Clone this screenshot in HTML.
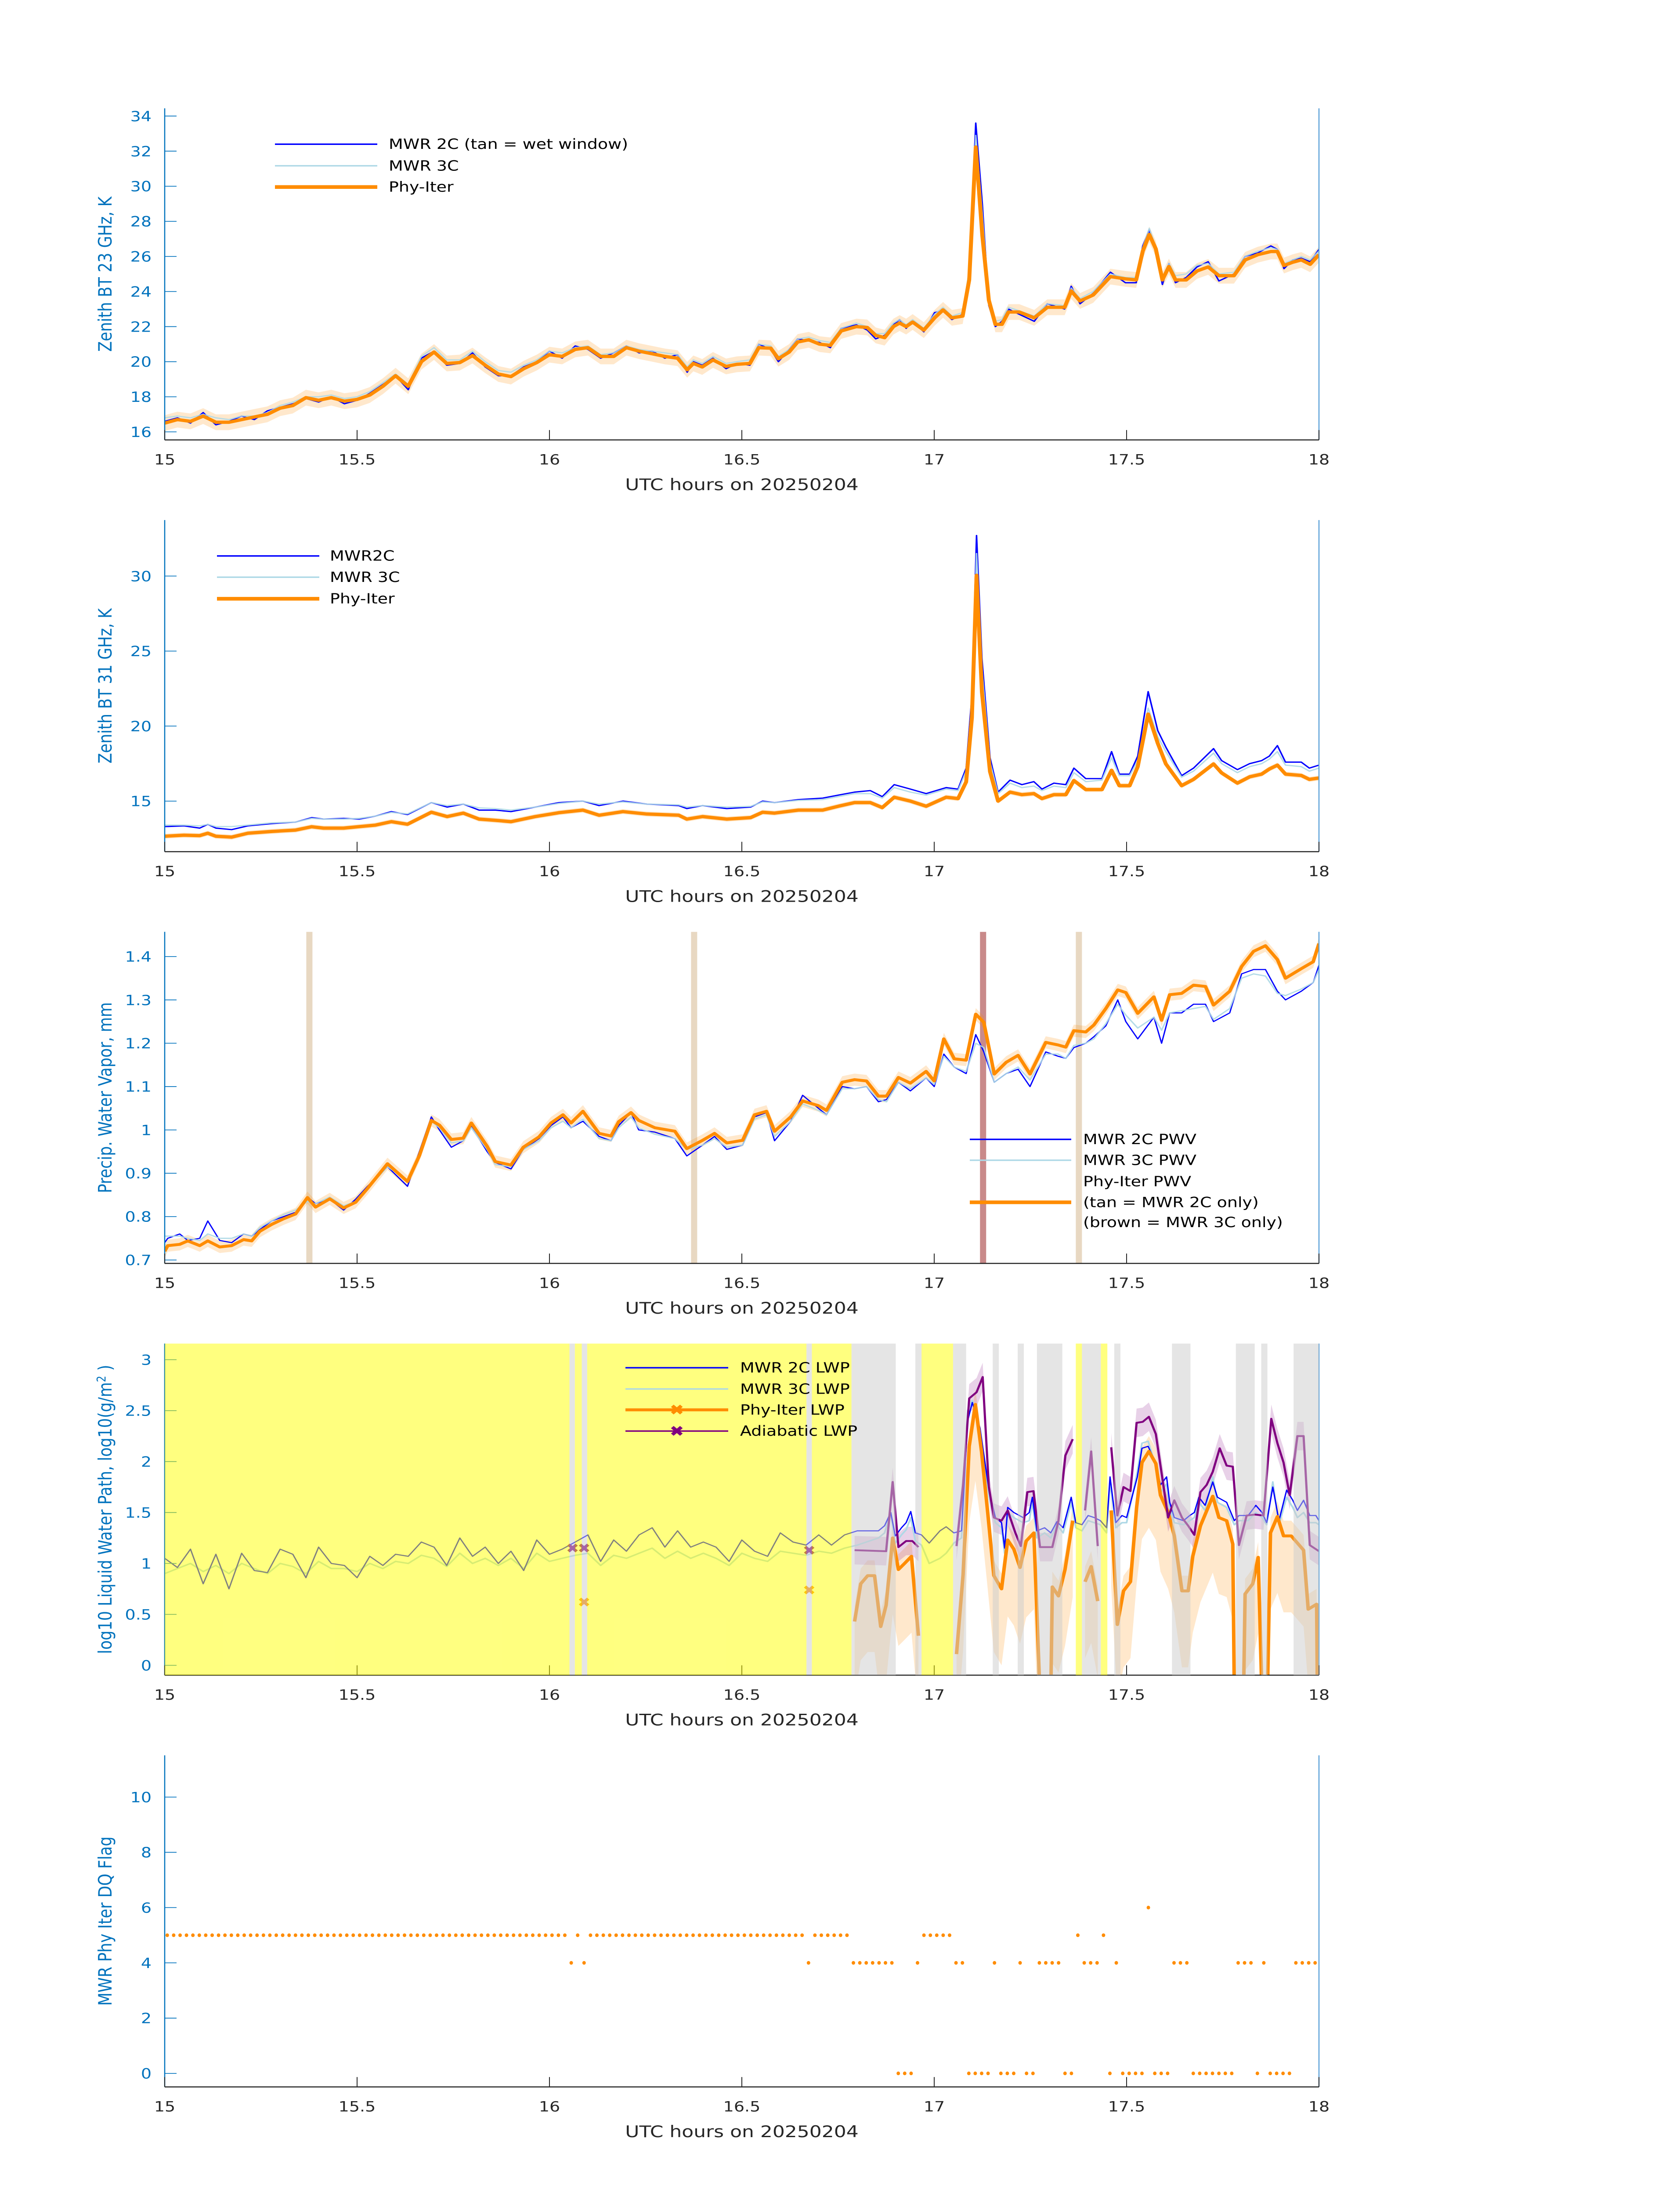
<!DOCTYPE html>
<html><head><meta charset="utf-8"><title>MWR Phy-Iter retrievals 20250204</title>
<style>
html,body{margin:0;padding:0;background:#fff;width:100%;height:100%;overflow:hidden;}
svg{display:block;width:100vw;height:100vh;font-family:"DejaVu Sans","Liberation Sans",sans-serif;}
</style></head>
<body>
<svg id="chart" xmlns="http://www.w3.org/2000/svg" viewBox="0 0 3825 6000" preserveAspectRatio="none">
<rect x="0" y="0" width="3825" height="6000" fill="#ffffff"/>
<g id="p1"></g>
<g id="p2"></g>
<g id="p3"></g>
<g id="p4"></g>
<g id="p5"></g>
</svg>
<script>
// ---------------- data ----------------
const xTickValues = [15, 15.5, 16, 16.5, 17, 17.5, 18];
const xTickLabels = ["15", "15.5", "16", "16.5", "17", "17.5", "18"];

// Panel 1: 23 GHz
const p1Ticks = [16, 18, 20, 22, 24, 26, 28, 30, 32, 34];
const p1T = [15.000,15.033,15.067,15.100,15.133,15.167,15.200,15.233,15.267,15.300,15.333,15.367,15.400,15.433,15.467,15.500,15.533,15.567,15.600,15.633,15.667,15.700,15.733,15.767,15.800,15.833,15.867,15.900,15.933,15.967,16.000,16.033,16.067,16.100,16.133,16.167,16.200,16.233,16.267,16.300,16.333,
16.358,16.374,16.397,16.425,16.459,16.487,16.521,16.544,16.575,16.595,16.623,16.645,16.674,16.702,16.730,16.758,16.798,16.826,16.848,16.871,16.894,16.910,16.927,16.944,16.973,17.001,17.023,17.046,17.074,17.091,17.108,17.125,17.142,17.159,17.176,17.193,17.221,17.260,17.294,17.339,17.356,17.379,17.413,17.458,17.497,17.525,17.542,17.559,17.576,17.593,17.610,17.627,17.655,17.683,17.712,17.740,17.779,17.808,17.841,17.875,17.892,17.909,17.932,17.954,17.977,18.0];
const p1Phy = [16.5,16.7,16.6,16.9,16.55,16.55,16.7,16.85,17.0,17.35,17.5,17.95,17.8,17.95,17.75,17.85,18.1,18.6,19.2,18.6,20.0,20.55,19.9,19.95,20.35,19.8,19.3,19.15,19.6,19.95,20.4,20.3,20.7,20.8,20.3,20.3,20.8,20.6,20.45,20.3,20.2,
19.54,19.9,19.7,20.1,19.73,19.85,19.9,20.8,20.77,20.17,20.55,21.12,21.25,21.0,20.93,21.75,22.0,21.95,21.5,21.37,22.0,22.2,22.0,22.26,21.8,22.5,22.95,22.5,22.6,24.66,32.24,27.2,23.5,22.13,22.13,22.83,22.83,22.5,23.1,23.1,24.03,23.46,23.8,24.85,24.72,24.66,26.3,27.25,26.43,24.66,25.42,24.66,24.66,25.17,25.4,24.9,24.9,25.8,26.1,26.28,26.28,25.48,25.67,25.8,25.55,26.1];
const p1Mwr2c = [16.6,16.8,16.5,17.1,16.4,16.6,16.9,16.7,17.2,17.4,17.6,17.9,17.7,18.0,17.6,17.8,18.2,18.7,19.2,18.4,20.2,20.6,19.8,19.9,20.5,19.7,19.2,19.2,19.7,20.0,20.6,20.2,20.9,20.7,20.2,20.5,20.9,20.5,20.6,20.2,20.4,
19.4,20.0,19.8,20.2,19.6,19.9,19.8,21.0,20.7,20.0,20.7,21.3,21.2,21.1,20.8,21.9,22.1,21.8,21.3,21.5,22.1,22.4,21.9,22.3,21.7,22.8,22.9,22.4,22.7,25.0,33.6,29.0,23.2,22.0,22.3,23.0,22.7,22.3,23.3,23.0,24.3,23.3,23.9,25.1,24.5,24.5,26.6,27.5,26.2,24.4,25.6,24.5,24.8,25.4,25.7,24.6,25.0,26.0,26.2,26.6,26.4,25.3,25.8,25.9,25.7,26.4];
const p1Mwr3c = [16.8,16.9,16.8,17.0,16.8,16.7,16.9,16.9,17.1,17.5,17.7,18.0,18.0,18.1,17.9,18.0,18.3,18.8,19.3,18.7,20.3,20.8,20.1,20.1,20.6,20.0,19.5,19.4,19.8,20.1,20.6,20.5,20.8,20.9,20.4,20.5,20.9,20.7,20.6,20.5,20.4,
19.7,20.1,19.9,20.3,19.9,20.0,20.1,21.0,20.9,20.3,20.7,21.3,21.4,21.2,21.1,21.9,22.2,22.0,21.6,21.6,22.2,22.4,22.1,22.4,21.9,22.7,23.1,22.6,22.8,25.2,32.9,28.4,23.6,22.3,22.4,23.1,22.9,22.6,23.3,23.2,24.2,23.6,24.0,25.0,24.8,24.8,26.5,27.6,26.5,24.8,25.6,24.9,25.0,25.5,25.6,25.0,25.1,26.0,26.3,26.5,26.4,25.6,25.8,26.0,25.8,26.3];

// Panel 2: 31 GHz
const p2Ticks = [15, 20, 25, 30];
const p2T = [15.000,15.050,15.091,15.112,15.133,15.174,15.216,15.278,15.340,15.382,15.413,15.465,15.506,15.548,15.589,15.631,15.693,15.734,15.776,15.817,15.859,15.900,15.963,16.025,16.087,16.129,16.191,16.253,16.336,16.357,16.398,16.461,16.523,16.554,16.585,16.647,16.710,16.751,16.793,16.834,16.865,16.896,16.938,16.979,17.031,17.062,17.083,17.098,17.110,17.124,17.145,17.166,17.197,17.228,17.259,17.280,17.311,17.342,17.363,17.394,17.436,17.461,17.481,17.508,17.529,17.556,17.581,17.602,17.643,17.674,17.726,17.747,17.788,17.820,17.851,17.871,17.892,17.913,17.954,17.975,18.000];
const p2Phy = [12.66,12.73,12.7,12.86,12.66,12.6,12.86,12.98,13.07,13.29,13.2,13.2,13.3,13.4,13.63,13.46,14.26,13.97,14.2,13.8,13.72,13.63,13.97,14.23,14.4,14.06,14.3,14.14,14.06,13.8,13.97,13.8,13.9,14.26,14.2,14.4,14.4,14.66,14.9,14.9,14.57,15.26,15.0,14.66,15.26,15.17,16.28,20.56,30.05,22.27,16.97,15.0,15.6,15.43,15.5,15.17,15.43,15.43,16.37,15.77,15.77,17.05,16.03,16.03,17.3,20.8,18.85,17.48,16.03,16.45,17.48,16.88,16.2,16.62,16.8,17.14,17.4,16.8,16.71,16.45,16.54];
const p2Mwr2c = [13.3,13.35,13.2,13.45,13.2,13.1,13.35,13.5,13.6,13.9,13.8,13.85,13.8,14.0,14.3,14.1,14.9,14.6,14.8,14.4,14.4,14.3,14.6,14.9,15.0,14.7,15.0,14.8,14.7,14.5,14.7,14.5,14.6,15.0,14.9,15.1,15.2,15.4,15.6,15.7,15.3,16.1,15.8,15.5,15.9,15.8,17.2,22.0,32.7,24.5,17.9,15.6,16.4,16.1,16.3,15.8,16.2,16.1,17.2,16.5,16.5,18.3,16.8,16.8,18.0,22.3,19.7,18.6,16.7,17.2,18.5,17.7,17.1,17.5,17.7,18.0,18.7,17.6,17.6,17.2,17.4];
const p2Mwr3c = [13.4,13.4,13.35,13.45,13.3,13.3,13.4,13.55,13.6,13.85,13.8,13.8,13.85,14.0,14.25,14.15,14.9,14.7,14.8,14.55,14.5,14.4,14.6,14.85,15.0,14.8,14.95,14.8,14.75,14.6,14.7,14.6,14.65,14.95,14.9,15.05,15.1,15.3,15.5,15.5,15.2,15.9,15.6,15.4,15.8,15.7,17.0,21.5,31.5,23.8,17.6,15.5,16.2,15.9,16.0,15.7,16.0,15.9,16.9,16.3,16.4,17.9,16.7,16.7,17.7,21.2,19.3,18.3,16.6,17.0,18.2,17.5,16.9,17.3,17.5,17.8,18.3,17.4,17.3,17.0,17.2];

// Panel 3: PWV
const p3Ticks = [0.7, 0.8, 0.9, 1.0, 1.1, 1.2, 1.3, 1.4];
const p3TickLabels = ["0.7", "0.8", "0.9", "1", "1.1", "1.2", "1.3", "1.4"];
const p3T = [15.000,15.008,15.039,15.060,15.091,15.112,15.143,15.174,15.205,15.226,
15.247,15.278,15.309,15.340,15.371,15.392,15.429,15.465,15.496,15.527,
15.579,15.631,15.662,15.693,15.714,15.745,15.776,15.797,15.838,15.859,
15.900,15.932,15.973,16.004,16.035,16.056,16.087,16.129,16.160,16.180,
16.212,16.232,16.274,16.326,16.357,16.398,16.429,16.461,16.502,16.533,
16.564,16.585,16.627,16.658,16.699,16.720,16.761,16.793,16.824,16.855,
16.876,16.907,16.938,16.979,17.000,17.025,17.052,17.083,17.108,17.129,
17.156,17.187,17.218,17.249,17.290,17.322,17.342,17.363,17.394,17.415,
17.446,17.477,17.498,17.529,17.571,17.591,17.612,17.643,17.674,17.705,
17.726,17.768,17.799,17.830,17.861,17.892,17.913,17.954,17.985,18.000];
const p3Phy = [0.72,0.733,0.736,0.744,0.733,0.744,0.73,0.733,0.747,0.744,
0.766,0.782,0.795,0.806,0.844,0.822,0.841,0.82,0.833,0.865,
0.922,0.881,0.941,1.022,1.011,0.978,0.981,1.016,0.962,0.927,
0.919,0.96,0.984,1.016,1.035,1.016,1.043,0.992,0.986,1.019,
1.04,1.022,1.005,0.997,0.957,0.976,0.992,0.97,0.976,1.035,
1.043,0.997,1.03,1.067,1.056,1.045,1.11,1.116,1.113,1.078,
1.078,1.121,1.108,1.135,1.113,1.21,1.164,1.161,1.267,1.248,
1.129,1.156,1.172,1.129,1.202,1.196,1.191,1.229,1.226,1.242,
1.28,1.323,1.317,1.269,1.307,1.253,1.312,1.315,1.334,1.331,
1.288,1.32,1.377,1.412,1.425,1.393,1.35,1.372,1.388,1.43];
const p3Mwr2c = [0.74,0.75,0.76,0.745,0.75,0.79,0.745,0.74,0.76,0.755,
0.77,0.79,0.8,0.81,0.845,0.83,0.84,0.815,0.84,0.87,
0.915,0.87,0.95,1.03,1.0,0.96,0.975,1.01,0.95,0.925,
0.91,0.955,0.98,1.01,1.03,1.005,1.02,0.985,0.975,1.01,
1.04,1.0,0.995,0.98,0.94,0.965,0.985,0.955,0.965,1.03,
1.04,0.975,1.02,1.08,1.05,1.035,1.1,1.095,1.1,1.065,
1.07,1.11,1.09,1.12,1.1,1.175,1.145,1.13,1.22,1.18,
1.11,1.13,1.14,1.1,1.18,1.17,1.165,1.19,1.2,1.215,
1.24,1.3,1.25,1.21,1.26,1.2,1.27,1.27,1.29,1.29,
1.25,1.27,1.36,1.37,1.37,1.32,1.30,1.32,1.34,1.38];
const p3Mwr3c = [0.755,0.755,0.755,0.75,0.745,0.76,0.75,0.75,0.76,0.755,
0.775,0.79,0.805,0.815,0.835,0.83,0.845,0.825,0.835,0.865,
0.915,0.885,0.945,1.02,1.005,0.97,0.975,1.005,0.955,0.92,
0.915,0.955,0.975,1.005,1.02,1.005,1.025,0.98,0.975,1.005,
1.03,1.005,0.99,0.98,0.955,0.965,0.98,0.96,0.965,1.025,
1.035,0.985,1.02,1.06,1.045,1.035,1.095,1.095,1.1,1.07,
1.065,1.11,1.095,1.12,1.105,1.17,1.145,1.135,1.2,1.19,
1.11,1.13,1.145,1.115,1.175,1.175,1.165,1.195,1.2,1.21,
1.245,1.29,1.265,1.235,1.26,1.23,1.27,1.275,1.28,1.285,
1.255,1.28,1.35,1.36,1.355,1.315,1.31,1.325,1.34,1.37];
const p3TanTimes = [15.376, 16.376, 17.376];
const p3BrownTimes = [17.127];

// Panel 4: LWP
const p4Ticks = [0, 0.5, 1, 1.5, 2, 2.5, 3];
const p4TickLabels = ["0", "0.5", "1", "1.5", "2", "2.5", "3"];
const lwpT = [15.000,15.033,15.067,15.100,15.133,15.167,15.200,15.233,15.267,15.300,15.333,15.367,15.400,15.433,15.467,15.500,15.533,15.567,15.600,15.633,15.667,15.700,15.733,15.767,15.800,15.833,15.867,15.900,15.933,15.967,16.000,16.033,16.067,16.100,16.133,16.167,16.200,16.233,16.267,16.300,16.333,16.367,16.400,16.433,16.467,16.500,16.533,16.567,16.600,16.633,16.667,16.700,16.733,16.767,16.800,
16.855,16.871,16.887,16.899,16.915,16.927,16.939,16.951,16.967,16.987,17.015,17.031,17.051,17.071,17.087,17.099,17.119,17.143,17.159,17.175,17.183,17.191,17.207,17.231,17.247,17.255,17.267,17.287,17.303,17.319,17.335,17.356,17.368,17.384,17.400,17.416,17.432,17.448,17.457,17.472,17.488,17.500,17.528,17.540,17.556,17.576,17.588,17.604,17.612,17.624,17.648,17.664,17.676,17.688,17.704,17.724,17.736,17.760,17.780,17.792,17.816,17.836,17.852,17.864,17.880,17.896,17.916,17.932,17.944,17.960,17.976,17.992,18.000];
const lwp2c = [1.05,0.96,1.14,0.8,1.09,0.75,1.1,0.93,0.91,1.14,1.09,0.86,1.16,1.0,0.98,0.86,1.07,0.98,1.09,1.07,1.21,1.16,0.98,1.25,1.07,1.16,1.0,1.12,0.93,1.23,1.09,1.14,1.21,1.28,1.02,1.23,1.12,1.28,1.35,1.16,1.32,1.16,1.21,1.16,1.02,1.23,1.12,1.07,1.3,1.21,1.18,1.28,1.18,1.28,1.32,
1.32,1.37,1.5,1.27,1.35,1.4,1.51,1.30,1.28,1.2,1.32,1.36,1.30,1.32,2.4,2.58,2.33,1.7,1.45,1.4,1.15,1.55,1.5,1.45,1.5,1.65,1.32,1.35,1.30,1.41,1.35,1.65,1.4,1.38,1.47,1.45,1.42,1.35,1.85,1.4,1.47,1.45,1.85,2.13,2.15,1.98,1.77,1.85,1.6,1.45,1.42,1.47,1.5,1.65,1.57,1.8,1.65,1.6,1.42,1.47,1.47,1.57,1.5,1.4,1.75,1.42,1.72,1.62,1.52,1.62,1.47,1.47,1.42];
const lwp3c = [0.9,0.95,1.0,0.92,0.98,0.9,1.0,0.95,0.9,1.0,0.97,0.9,1.02,0.95,0.95,0.92,1.0,0.95,1.02,1.0,1.08,1.05,0.97,1.1,1.0,1.05,0.98,1.05,0.95,1.1,1.02,1.05,1.08,1.1,0.98,1.08,1.05,1.1,1.15,1.05,1.12,1.05,1.1,1.05,0.98,1.1,1.05,1.02,1.12,1.1,1.08,1.12,1.1,1.15,1.18,
1.25,1.3,1.5,1.2,1.28,1.33,1.45,1.22,1.18,1.0,1.05,1.1,1.2,1.25,2.5,2.6,2.3,1.65,1.4,1.35,1.1,1.5,1.45,1.4,1.42,1.6,1.25,1.3,1.25,1.38,1.3,1.6,1.35,1.32,1.42,1.4,1.38,1.3,1.8,1.35,1.4,1.4,1.9,2.18,2.2,1.95,1.7,1.78,1.55,1.4,1.38,1.42,1.45,1.6,1.52,1.85,1.6,1.55,1.38,1.42,1.42,1.5,1.45,1.38,1.8,1.38,1.65,1.55,1.45,1.5,1.4,1.4,1.38];
const phyLwpT = [16.793,16.809,16.827,16.845,16.861,16.875,16.892,16.907,16.923,16.941,16.959,16.960,17.058,17.075,17.091,17.107,17.123,17.139,17.155,17.175,17.191,17.207,17.223,17.239,17.259,17.275,17.290,17.303,17.307,17.323,17.340,17.360,17.370,17.392,17.408,17.425,17.440,17.460,17.476,17.492,17.510,17.526,17.540,17.558,17.576,17.588,17.608,17.624,17.644,17.660,17.672,17.692,17.724,17.740,17.760,17.776,17.780,17.790,17.804,17.808,17.828,17.842,17.852,17.860,17.866,17.874,17.892,17.908,17.928,17.960,17.972,17.994,17.996];
const phyLwpV = [0.43,0.80,0.88,0.88,0.38,0.59,1.25,0.94,1.0,1.07,0.29,null,0.11,0.89,2.15,2.56,2.1,1.5,0.88,0.75,1.23,1.14,0.96,1.22,1.30,-0.3,null,-0.3,0.77,0.68,0.94,1.42,null,0.82,0.97,0.63,null,1.52,0.4,0.73,0.82,1.55,1.99,2.1,1.98,1.67,1.5,1.27,0.73,0.73,1.07,1.37,1.66,1.45,1.42,1.19,-0.3,null,-0.3,0.7,0.8,1.06,-0.3,null,-0.3,1.3,1.46,1.27,1.27,1.13,0.55,0.6,-0.3];
const adiaLwpT = [16.793,16.875,16.892,16.907,16.927,16.943,16.959,16.960,17.058,17.075,17.091,17.110,17.126,17.142,17.155,17.175,17.191,17.211,17.225,17.242,17.258,17.275,17.307,17.323,17.341,17.360,17.370,17.392,17.408,17.425,17.440,17.460,17.476,17.492,17.510,17.526,17.542,17.558,17.576,17.608,17.624,17.644,17.660,17.676,17.692,17.708,17.724,17.742,17.760,17.776,17.792,17.812,17.834,17.856,17.876,17.892,17.908,17.924,17.944,17.960,17.976,18.0];
const adiaLwpV = [1.13,1.12,1.8,1.16,1.22,1.22,1.16,null,1.17,1.77,2.62,2.68,2.83,1.75,1.45,1.42,1.52,1.3,1.17,1.7,1.71,1.16,1.16,1.42,2.06,2.22,null,1.52,2.1,1.17,null,2.14,1.47,1.75,1.71,2.38,2.39,2.44,2.27,1.45,1.62,1.45,1.37,1.28,1.7,1.77,1.9,2.13,1.96,1.95,1.18,1.47,1.48,1.47,2.42,2.18,1.99,1.67,2.25,2.25,1.18,1.12];
const adiaPtT = [16.06, 16.09, 16.675];
const adiaPtV = [1.15, 1.15, 1.13];
const phyPtT = [16.09, 16.675];
const phyPtV = [0.62, 0.74];
const yellowStart = [15.0, 16.066, 16.098, 16.682, 16.967, 17.368, 17.433];
const yellowEnd = [16.052, 16.084, 16.668, 16.785, 17.049, 17.384, 17.450];
const grayStart = [16.052, 16.084, 16.668, 16.785, 16.951, 17.049, 17.152, 17.217, 17.267, 17.384, 17.468, 17.618, 17.784, 17.850, 17.934];
const grayEnd = [16.066, 16.098, 16.682, 16.900, 16.967, 17.083, 17.168, 17.233, 17.333, 17.433, 17.484, 17.666, 17.833, 17.866, 18.000];

// Panel 5: DQ flag (run-length, 1-minute cadence)
const p5Ticks = [0, 2, 4, 6, 8, 10];
const flagRunValues = [5,4,5,4,5,4,5,4,0,4,5,4,0,4,0,4,0,4,0,5,4,5,0,4,0,6,0,4,0,4,0,4,0,4];
const flagRunLengths = [63,1,1,1,34,1,6,7,3,1,5,2,4,1,3,1,2,4,2,1,3,1,1,1,4,1,3,3,7,3,1,1,4,5];
const flagValues = [];
flagRunValues.forEach((v, k) => { for (let j = 0; j < flagRunLengths[k]; j++) flagValues.push(v); });

// ---------------- drawing ----------------
const NS = 'http://www.w3.org/2000/svg';
const X0 = 375, X1 = 3003, H = 906;
const BLUE_AX = '#0072BD', DARK = '#262626';
const panels = [
  {id:'p1', top:296,  ymin:15.54, ymax:34.44},
  {id:'p2', top:1421, ymin:11.63, ymax:33.73},
  {id:'p3', top:2546, ymin:0.692, ymax:1.457},
  {id:'p4', top:3671, ymin:-0.097, ymax:3.158},
  {id:'p5', top:4796, ymin:-0.49, ymax:11.51}
];
function mk(tag, parent) { const e = document.createElementNS(NS, tag); parent.appendChild(e); return e; }
function scale(p) {
  return { x: t => X0 + (t - 15) / 3 * (X1 - X0), y: v => p.top + (p.ymax - v) / (p.ymax - p.ymin) * H };
}
function linePath(T, V, s) {
  let d = '', pen = false;
  for (let i = 0; i < T.length; i++) {
    if (V[i] === null || V[i] === undefined) { pen = false; continue; }
    d += (pen ? 'L' : 'M') + s.x(T[i]).toFixed(1) + ' ' + s.y(V[i]).toFixed(1);
    pen = true;
  }
  return d;
}
function bandPath(T, V, lo, hi, s) {
  let d = '', seg = [];
  const flush = () => {
    if (seg.length > 1) {
      d += 'M' + seg.map(i => s.x(T[i]).toFixed(1) + ' ' + s.y(V[i] + hi).toFixed(1)).join('L');
      d += 'L' + seg.slice().reverse().map(i => s.x(T[i]).toFixed(1) + ' ' + s.y(V[i] - lo).toFixed(1)).join('L') + 'Z';
    }
    seg = [];
  };
  for (let i = 0; i < T.length; i++) { if (V[i] === null) flush(); else seg.push(i); }
  flush();
  return d;
}
function clipFor(p, g, idx) {
  const cp = mk('clipPath', g);
  cp.setAttribute('id', 'clip' + idx);
  const r = mk('rect', cp);
  r.setAttribute('x', X0); r.setAttribute('y', p.top); r.setAttribute('width', X1 - X0); r.setAttribute('height', H);
  const cg = mk('g', g);
  cg.setAttribute('clip-path', 'url(#clip' + idx + ')');
  
  
  return cg;
}
function drawAxes(g, p, s, yTicks, yLabels, yTitle) {
  const bottom = p.top + H;
  const ax = mk('g', g);
  
  
  const left = mk('line', ax);
  left.setAttribute('x1', X0); left.setAttribute('x2', X0); left.setAttribute('y1', p.top); left.setAttribute('y2', bottom);
  left.setAttribute('stroke', BLUE_AX); left.setAttribute('stroke-width', 2.5);
  
  
  const right = mk('line', ax);
  right.setAttribute('x1', X1); right.setAttribute('x2', X1); right.setAttribute('y1', p.top); right.setAttribute('y2', bottom);
  right.setAttribute('stroke', '#5aa0d8'); right.setAttribute('stroke-width', 2.5);
  
  
  const bot = mk('line', ax);
  bot.setAttribute('x1', X0); bot.setAttribute('x2', X1); bot.setAttribute('y1', bottom); bot.setAttribute('y2', bottom);
  bot.setAttribute('stroke', DARK); bot.setAttribute('stroke-width', 3);
  
  
  yTicks.forEach((v, i) => {
    const y = s.y(v);
    const tk = mk('line', ax);
    tk.setAttribute('x1', X0); tk.setAttribute('x2', X0 + 27); tk.setAttribute('y1', y); tk.setAttribute('y2', y);
    tk.setAttribute('stroke', BLUE_AX); tk.setAttribute('stroke-width', 2);
    
    
    const tl = mk('text', ax);
    tl.setAttribute('x', 345); tl.setAttribute('y', y + 14); tl.setAttribute('text-anchor', 'end');
    tl.setAttribute('font-size', 38); tl.setAttribute('fill', BLUE_AX);
    tl.textContent = yLabels[i];
    
    
  });
  xTickValues.forEach((v, i) => {
    const x = s.x(v);
    const tk = mk('line', ax);
    tk.setAttribute('x1', x); tk.setAttribute('x2', x); tk.setAttribute('y1', bottom); tk.setAttribute('y2', bottom - 27);
    tk.setAttribute('stroke', DARK); tk.setAttribute('stroke-width', 2);
    
    
    const tl = mk('text', ax);
    tl.setAttribute('x', x); tl.setAttribute('y', bottom + 67); tl.setAttribute('text-anchor', 'middle');
    tl.setAttribute('font-size', 38); tl.setAttribute('fill', DARK);
    tl.textContent = xTickLabels[i];
    
    
  });
  const xt = mk('text', ax);
  xt.setAttribute('x', (X0 + X1) / 2); xt.setAttribute('y', bottom + 137); xt.setAttribute('text-anchor', 'middle');
  xt.setAttribute('font-size', 44); xt.setAttribute('fill', DARK);
  xt.textContent = 'UTC hours on 20250204';
  
  
  const yt = mk('text', ax);
  const cy = p.top + H / 2;
  yt.setAttribute('x', 0); yt.setAttribute('y', 0);
  yt.setAttribute('transform', 'translate(254,' + cy + ') rotate(-90)');
  yt.setAttribute('text-anchor', 'middle'); yt.setAttribute('font-size', 42); yt.setAttribute('fill', BLUE_AX);
  yt.innerHTML = yTitle;
  
  
}
function addPath(parent, d, stroke, width, name, opacity) {
  const e = mk('path', parent);
  e.setAttribute('d', d); e.setAttribute('fill', 'none'); e.setAttribute('stroke', stroke);
  e.setAttribute('stroke-width', width); e.setAttribute('stroke-linejoin', 'round');
  if (opacity) e.setAttribute('stroke-opacity', opacity);
  
  
  return e;
}
function addBand(parent, d, fill, opacity, name) {
  const e = mk('path', parent);
  e.setAttribute('d', d); e.setAttribute('fill', fill); e.setAttribute('fill-opacity', opacity); e.setAttribute('stroke', 'none');
  
  
  return e;
}
function legendEntry(g, x1, x2, y, color, width, label, tx, marker) {
  const le = mk('g', g);
  
  
  if (color) {
    const l = mk('line', le);
    l.setAttribute('x1', x1); l.setAttribute('x2', x2); l.setAttribute('y1', y); l.setAttribute('y2', y);
    l.setAttribute('stroke', color); l.setAttribute('stroke-width', width);
    
    
    if (marker) {
      const m = mk('text', le);
      m.setAttribute('x', (x1 + x2) / 2); m.setAttribute('y', y + 14); m.setAttribute('text-anchor', 'middle');
      m.setAttribute('font-size', 40); m.setAttribute('font-weight', 'bold'); m.setAttribute('fill', color);
      m.textContent = '✖';
      
      
    }
  }
  const t = mk('text', le);
  t.setAttribute('x', tx); t.setAttribute('y', y + 13); t.setAttribute('font-size', 38); t.setAttribute('fill', '#000');
  t.textContent = label;
  
  
}
function seqLabels(arr) { return arr.map(v => String(v)); }

// ---- Panel 1 ----
(function () {
  const p = panels[0], s = scale(p), g = document.getElementById('p1');
  const cg = clipFor(p, g, 1);
  addBand(cg, bandPath(p1T, p1Phy, 0.45, 0.45, s), '#ff8c00', 0.2, 'phy-iter-uncertainty-band');
  addPath(cg, linePath(p1T, p1Mwr2c, s), '#0000ff', 3.5, 'mwr-2c-line');
  addPath(cg, linePath(p1T, p1Mwr3c, s), '#add8e6', 3.5, 'mwr-3c-line', 0.85);
  addPath(cg, linePath(p1T, p1Phy, s), '#ff8c00', 9, 'phy-iter-line');
  drawAxes(g, p, s, p1Ticks, seqLabels(p1Ticks), 'Zenith BT 23 GHz, K');
  const lg = mk('g', g);
  
  
  legendEntry(lg, 626, 859, 394, '#0000ff', 4, 'MWR 2C (tan = wet window)', 885);
  legendEntry(lg, 626, 859, 453, '#add8e6', 4, 'MWR 3C', 885);
  legendEntry(lg, 626, 859, 511, '#ff8c00', 10, 'Phy-Iter', 885);
})();

// ---- Panel 2 ----
(function () {
  const p = panels[1], s = scale(p), g = document.getElementById('p2');
  const cg = clipFor(p, g, 2);
  addBand(cg, bandPath(p2T, p2Phy, 0.17, 0.17, s), '#ff8c00', 0.2, 'phy-iter-uncertainty-band');
  addPath(cg, linePath(p2T, p2Mwr2c, s), '#0000ff', 3.5, 'mwr-2c-line');
  addPath(cg, linePath(p2T, p2Mwr3c, s), '#add8e6', 3.5, 'mwr-3c-line', 0.9);
  addPath(cg, linePath(p2T, p2Phy, s), '#ff8c00', 9, 'phy-iter-line');
  drawAxes(g, p, s, p2Ticks, seqLabels(p2Ticks), 'Zenith BT 31 GHz, K');
  const lg = mk('g', g);
  
  
  legendEntry(lg, 494, 727, 1519, '#0000ff', 4, 'MWR2C', 751);
  legendEntry(lg, 494, 727, 1577, '#add8e6', 4, 'MWR 3C', 751);
  legendEntry(lg, 494, 727, 1636, '#ff8c00', 10, 'Phy-Iter', 751);
})();

// ---- Panel 3 ----
(function () {
  const p = panels[2], s = scale(p), g = document.getElementById('p3');
  const cg = clipFor(p, g, 3);
  p3TanTimes.forEach(t => {
    const r = mk('rect', cg);
    r.setAttribute('x', s.x(t) - 7); r.setAttribute('y', p.top); r.setAttribute('width', 14); r.setAttribute('height', H);
    r.setAttribute('fill', '#e8d8c2');
    
    
  });
  p3BrownTimes.forEach(t => {
    const r = mk('rect', cg);
    r.setAttribute('x', s.x(t) - 7); r.setAttribute('y', p.top); r.setAttribute('width', 14); r.setAttribute('height', H);
    r.setAttribute('fill', '#c98a8a');
    
    
  });
  addBand(cg, bandPath(p3T, p3Phy, 0.014, 0.014, s), '#ff8c00', 0.2, 'phy-iter-uncertainty-band');
  addPath(cg, linePath(p3T, p3Mwr2c, s), '#0000ff', 3, 'mwr-2c-pwv-line');
  addPath(cg, linePath(p3T, p3Mwr3c, s), '#add8e6', 3.5, 'mwr-3c-pwv-line', 0.9);
  addPath(cg, linePath(p3T, p3Phy, s), '#ff8c00', 8, 'phy-iter-pwv-line');
  drawAxes(g, p, s, p3Ticks, p3TickLabels, 'Precip. Water Vapor, mm');
  const lg = mk('g', g);
  
  
  legendEntry(lg, 2208, 2439, 3113, '#0000ff', 4, 'MWR 2C PWV', 2466);
  legendEntry(lg, 2208, 2439, 3170, '#add8e6', 4, 'MWR 3C PWV', 2466);
  legendEntry(lg, 0, 0, 3228, null, 0, 'Phy-Iter PWV', 2466);
  legendEntry(lg, 2208, 2439, 3285, '#ff8c00', 10, '(tan = MWR 2C only)', 2466);
  legendEntry(lg, 0, 0, 3340, null, 0, '(brown = MWR 3C only)', 2466);
})();

// ---- Panel 4 ----
(function () {
  const p = panels[3], s = scale(p), g = document.getElementById('p4');
  const cg = clipFor(p, g, 4);
  addBand(cg, bandPath(phyLwpT, phyLwpV, 0.75, 0.15, s), '#ff8c00', 0.2, 'phy-iter-lwp-band');
  addBand(cg, bandPath(adiaLwpT, adiaLwpV, 0.14, 0.14, s), '#800080', 0.18, 'adiabatic-lwp-band');
  addPath(cg, linePath(lwpT, lwp3c, s), '#add8e6', 4, 'mwr-3c-lwp-line');
  addPath(cg, linePath(lwpT, lwp2c, s), '#0000ff', 3, 'mwr-2c-lwp-line');
  addPath(cg, linePath(phyLwpT, phyLwpV, s), '#ff8c00', 8, 'phy-iter-lwp-line');
  addPath(cg, linePath(adiaLwpT, adiaLwpV, s), '#800080', 5, 'adiabatic-lwp-line');
  adiaPtT.forEach((t, i) => {
    const m = mk('text', cg);
    m.setAttribute('x', s.x(t)); m.setAttribute('y', s.y(adiaPtV[i]) + 13); m.setAttribute('text-anchor', 'middle');
    m.setAttribute('font-size', 36); m.setAttribute('font-weight', 'bold'); m.setAttribute('fill', '#800080');
    m.textContent = '✖';
    
    
  });
  phyPtT.forEach((t, i) => {
    const m = mk('text', cg);
    m.setAttribute('x', s.x(t)); m.setAttribute('y', s.y(phyPtV[i]) + 13); m.setAttribute('text-anchor', 'middle');
    m.setAttribute('font-size', 36); m.setAttribute('font-weight', 'bold'); m.setAttribute('fill', '#ff8c00');
    m.textContent = '✖';
    
    
  });
  drawAxes(g, p, s, p4Ticks, p4TickLabels, 'log10 Liquid Water Path, log10(g/m<tspan dy="-14" font-size="28">2</tspan><tspan dy="14"> )</tspan>');
  const sg = mk('g', g);
  
  
  yellowStart.forEach((t0, i) => {
    const r = mk('rect', sg);
    r.setAttribute('x', s.x(t0)); r.setAttribute('y', p.top); r.setAttribute('width', s.x(yellowEnd[i]) - s.x(t0)); r.setAttribute('height', H);
    r.setAttribute('fill', '#ffff00'); r.setAttribute('fill-opacity', 0.5);
    
    
  });
  grayStart.forEach((t0, i) => {
    const r = mk('rect', sg);
    r.setAttribute('x', s.x(t0)); r.setAttribute('y', p.top); r.setAttribute('width', s.x(grayEnd[i]) - s.x(t0)); r.setAttribute('height', H);
    r.setAttribute('fill', '#cccccc'); r.setAttribute('fill-opacity', 0.5);
    
    
  });
  const lg = mk('g', g);
  
  
  legendEntry(lg, 1424, 1658, 3737, '#0000ff', 4, 'MWR 2C LWP', 1685);
  legendEntry(lg, 1424, 1658, 3795, '#add8e6', 4, 'MWR 3C LWP', 1685);
  legendEntry(lg, 1424, 1658, 3852, '#ff8c00', 8, 'Phy-Iter LWP', 1685, true);
  legendEntry(lg, 1424, 1658, 3910, '#800080', 4, 'Adiabatic LWP', 1685, true);
})();

// ---- Panel 5 ----
(function () {
  const p = panels[4], s = scale(p), g = document.getElementById('p5');
  const cg = clipFor(p, g, 5);
  flagValues.forEach((v, i) => {
    const t = 15 + (i + 0.4) / 60;
    const c = mk('ellipse', cg);
    c.setAttribute('cx', s.x(t).toFixed(1)); c.setAttribute('cy', s.y(v).toFixed(1));
    c.setAttribute('rx', 4); c.setAttribute('ry', 5); c.setAttribute('fill', '#ff8c00');
    
    
  });
  drawAxes(g, p, s, p5Ticks, seqLabels(p5Ticks), 'MWR Phy Iter DQ Flag');
})();
</script>
</body></html>
